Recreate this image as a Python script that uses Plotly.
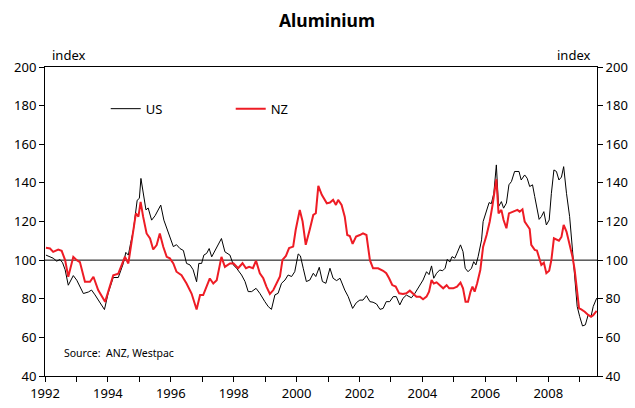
import plotly.graph_objects as go

# ---- data ----
us_year = [1992.03,1992.26,1992.37,1992.48,1992.56,1992.64,1992.74,1992.90,1993.01,1993.22,1993.38,1993.48,1993.59,1993.75,1993.89,
           1994.01,1994.17,1994.33,1994.49,1994.57,1994.65,1994.72,1994.81,1994.93,1995.00,1995.05,1995.12,1995.21,1995.28,1995.39,
           1995.50,1995.63,1995.68,1995.78,1995.92,1995.97,1996.08,1996.18,1996.29,1996.40,1996.50,1996.61,1996.71,1996.82,1996.89,
           1996.98,1997.05,1997.14,1997.22,1997.30,1997.40,1997.61,1997.72,1997.88,1997.99,1998.09,1998.25,1998.36,1998.46,1998.57,
           1998.71,1998.83,1998.99,1999.10,1999.20,1999.31,1999.41,1999.52,1999.63,1999.73,1999.84,1999.94,2000.05,2000.12,2000.21,
           2000.31,2000.42,2000.53,2000.61,2000.72,2000.82,2000.93,2001.06,2001.16,2001.27,2001.38,2001.53,2001.64,2001.78,2001.90,
           2002.01,2002.11,2002.22,2002.33,2002.43,2002.54,2002.65,2002.75,2002.85,2002.96,2003.07,2003.17,2003.28,2003.38,2003.49,
           2003.65,2003.76,2003.92,2004.02,2004.13,2004.21,2004.29,2004.36,2004.45,2004.55,2004.64,2004.72,2004.79,2004.87,2004.94,
           2005.03,2005.10,2005.21,2005.29,2005.36,2005.45,2005.56,2005.63,2005.70,2005.77,2005.88,2005.93,2006.04,2006.12,2006.19,
           2006.27,2006.35,2006.42,2006.51,2006.58,2006.67,2006.75,2006.83,2006.93,2007.07,2007.14,2007.25,2007.33,2007.41,2007.50,
           2007.57,2007.63,2007.71,2007.78,2007.86,2007.94,2008.03,2008.10,2008.18,2008.26,2008.34,2008.42,2008.49,2008.58,2008.68,
           2008.77,2008.84,2008.92,2009.00,2009.09,2009.18,2009.27,2009.36,2009.43,2009.54]
us_index = [102.6,101.0,99.5,100.3,98.6,95.0,87.0,92.0,89.6,82.7,83.5,84.5,82.0,78.0,74.4,
            83.0,91.0,91.0,98.3,104.0,102.6,108.6,115.5,131.0,132.0,142.3,134.5,126.0,127.0,120.7,
            123.0,127.6,128.5,120.7,113.8,112.0,107.0,108.0,106.0,105.0,98.3,97.5,95.0,88.8,98.3,
            98.3,102.6,103.5,106.0,101.7,105.0,111.2,104.3,102.6,97.5,95.8,92.3,88.9,83.7,83.7,
            85.4,82.8,78.5,75.9,74.5,82.0,82.8,88.0,89.7,92.3,91.5,94.0,103.2,102.2,95.8,
            88.9,89.7,93.2,91.5,96.3,88.9,88.0,95.8,90.6,89.4,90.6,84.5,81.1,75.0,78.0,
            79.3,79.3,81.6,78.5,78.2,77.3,74.5,75.0,78.5,78.5,81.1,81.1,76.8,80.2,81.9,
            80.5,82.8,87.2,89.7,94.0,92.5,97.0,90.6,93.2,94.9,94.5,95.8,100.4,99.0,101.8,
            101.0,103.6,107.9,104.4,95.8,94.0,95.8,99.2,97.5,101.8,110.5,120.0,126.0,129.8,129.2,
            134.6,149.3,127.7,130.3,126.9,129.5,139.0,140.7,145.9,145.9,141.5,144.1,142.4,138.1,139.0,
            132.9,127.7,121.1,122.5,125.1,118.2,120.8,134.6,146.7,145.9,141.5,143.0,148.4,134.6,122.5,
            105.3,91.5,76.0,70.8,65.9,66.5,71.7,70.8,76.0,80.3]

nz_year = [1992.03,1992.16,1992.26,1992.42,1992.53,1992.64,1992.74,1992.90,1993.01,1993.11,1993.27,1993.43,1993.54,1993.69,1993.91,
           1994.01,1994.17,1994.33,1994.44,1994.54,1994.65,1994.75,1994.89,1994.97,1995.04,1995.12,1995.23,1995.34,1995.44,1995.55,
           1995.65,1995.76,1995.87,1995.97,1996.08,1996.18,1996.34,1996.50,1996.66,1996.82,1996.93,1997.03,1997.14,1997.24,1997.35,
           1997.46,1997.61,1997.72,1997.88,1997.99,1998.14,1998.28,1998.39,1998.49,1998.61,1998.71,1998.83,1998.94,1999.04,1999.15,
           1999.26,1999.36,1999.47,1999.55,1999.66,1999.76,1999.89,1999.97,2000.10,2000.19,2000.29,2000.42,2000.53,2000.61,2000.69,
           2000.80,2000.96,2001.06,2001.16,2001.25,2001.32,2001.43,2001.53,2001.61,2001.69,2001.78,2001.89,2002.01,2002.11,2002.22,
           2002.33,2002.43,2002.59,2002.75,2002.85,2002.94,2003.04,2003.15,2003.26,2003.38,2003.49,2003.60,2003.71,2003.81,2003.92,
           2004.02,2004.13,2004.21,2004.29,2004.36,2004.45,2004.55,2004.66,2004.77,2004.85,2004.98,2005.10,2005.21,2005.29,2005.37,
           2005.45,2005.53,2005.59,2005.66,2005.74,2005.84,2005.93,2006.04,2006.14,2006.23,2006.30,2006.35,2006.42,2006.51,2006.58,
           2006.67,2006.75,2006.86,2006.93,2007.02,2007.09,2007.18,2007.25,2007.33,2007.41,2007.46,2007.57,2007.64,2007.71,2007.78,
           2007.86,2007.94,2008.03,2008.10,2008.18,2008.26,2008.34,2008.42,2008.49,2008.58,2008.68,2008.77,2008.84,2008.92,2008.98,
           2009.05,2009.16,2009.27,2009.36,2009.43,2009.54]
nz_index = [106.4,106.0,104.3,105.5,104.8,100.0,91.4,101.7,100.0,99.0,88.8,88.8,91.4,84.5,78.4,
            83.6,92.2,93.0,97.4,101.7,98.3,108.6,124.2,122.5,130.2,122.5,113.8,111.2,105.5,107.8,
            113.8,106.9,101.7,100.9,98.3,94.0,92.2,87.9,82.7,74.4,81.9,81.9,87.0,90.5,87.9,
            89.6,101.7,96.5,98.3,98.4,95.8,98.4,95.8,96.5,95.8,99.7,93.2,90.6,86.3,82.5,
            84.5,88.0,91.5,100.1,102.2,106.2,107.0,115.6,126.0,120.0,107.9,116.0,123.4,124.3,138.4,
            133.8,129.4,129.8,131.2,128.6,131.2,128.6,122.5,113.0,112.5,108.4,112.2,113.0,113.9,113.0,
            100.0,95.8,95.8,94.5,93.2,90.6,87.1,86.3,82.8,82.5,82.8,84.2,82.5,81.1,81.1,
            79.7,81.1,83.7,89.7,87.9,88.5,87.1,85.4,87.0,85.4,85.4,86.3,88.4,85.4,78.5,
            78.5,83.7,86.3,83.7,88.0,94.9,107.0,113.0,120.0,128.6,136.4,141.9,124.2,126.0,120.8,
            116.5,124.2,125.1,125.5,126.0,125.1,126.3,120.0,117.7,116.1,107.9,105.3,105.0,101.8,97.5,
            98.7,93.2,94.5,100.1,111.3,110.8,110.1,112.0,118.2,114.8,108.7,101.8,94.9,84.5,75.0,
            74.5,73.3,71.6,70.7,71.5,73.7]

year_ticks = list(range(1992, 2010))
year_labels = [str(y) if y % 2 == 0 else "" for y in year_ticks]
y_ticks = [40, 60, 80, 100, 120, 140, 160, 180, 200]
baseline = 100

FONT = "Noto Sans"

fig = go.Figure()
fig.add_trace(go.Scatter(x=us_year, y=us_index, name="US", mode="lines",
                         line=dict(color="black", width=1), yaxis="y"))
fig.add_trace(go.Scatter(x=nz_year, y=nz_index, name="NZ", mode="lines",
                         line=dict(color="#ee1c25", width=2), yaxis="y2"))

fig.add_hline(y=baseline, line=dict(color="black", width=1), layer="below")

fig.update_layout(
    width=635, height=408,
    margin=dict(l=45, r=38, t=67, b=32, autoexpand=False),
    paper_bgcolor="white", plot_bgcolor="white",
    font=dict(family=FONT, size=13, color="black"),
    title=dict(text="<b>Aluminium</b>", x=0.515, xanchor="center", y=0.95, yanchor="middle",
               font=dict(family=FONT, size=17.5, color="black")),
    showlegend=True,
    legend=dict(orientation="h", x=0.11, y=0.865, xanchor="left", yanchor="middle",
                bgcolor="rgba(0,0,0,0)", font=dict(size=13), entrywidth=80, itemwidth=30),
    xaxis=dict(range=[1992, 2009.55], tickvals=year_ticks, ticktext=year_labels, automargin=False,
               showline=True, linecolor="black", linewidth=1, mirror=True,
               ticks="outside", ticklen=5, tickcolor="black", showgrid=False, zeroline=False),
    yaxis=dict(range=[40, 200], tickvals=y_ticks, showline=True, linecolor="black", linewidth=1,
               automargin=False,
               ticks="outside", ticklen=5, tickcolor="black", showgrid=False, zeroline=False),
    yaxis2=dict(range=[40, 200], tickvals=y_ticks, overlaying="y", side="right", automargin=False,
                showline=True, linecolor="black", linewidth=1,
                ticks="outside", ticklen=5, tickcolor="black", showgrid=False, zeroline=False),
)

fig.add_annotation(text="index", xref="paper", yref="paper", x=0.009, y=1.0, xanchor="left",
                   yanchor="bottom", showarrow=False, font=dict(size=13), yshift=1)
fig.add_annotation(text="index", xref="paper", yref="paper", x=0.991, y=1.0, xanchor="right",
                   yanchor="bottom", showarrow=False, font=dict(size=13), yshift=1)
fig.add_annotation(text="Source:  ANZ, Westpac", xref="paper", yref="paper", x=0.03, y=0.073,
                   xanchor="left", yanchor="middle", showarrow=False, font=dict(size=10.5))

fig.write_html("out.html", config={"displayModeBar": False},
               post_script="document.body.style.margin='0';document.body.style.overflow='hidden';")
